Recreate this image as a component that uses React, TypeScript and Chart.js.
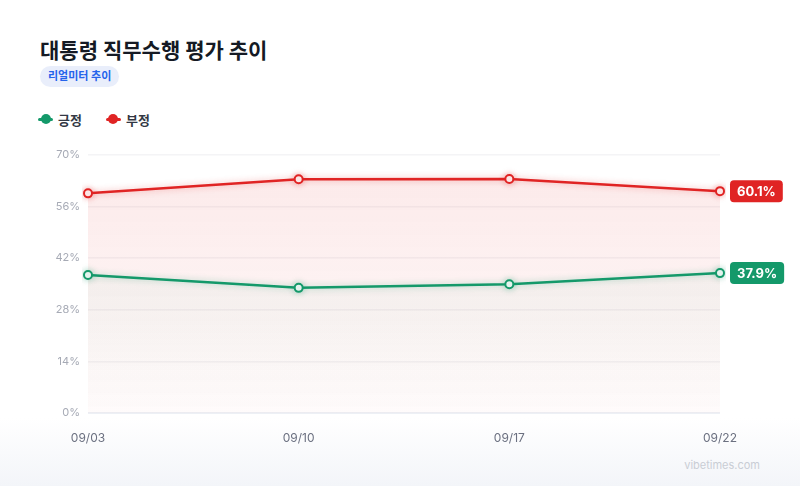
import { useEffect, useRef } from "react";
import Chart from "chart.js/auto";

const dates = ["09/03", "09/10", "09/17", "09/22"];
const positive = [37.4, 33.9, 34.9, 37.9];
const negative = [59.5, 63.3, 63.4, 60.1];
const yTicks = [0, 14, 28, 42, 56, 70];

const GREEN = "#14996a";
const RED = "#e02424";
const FONT = "Inter, 'Noto Sans CJK KR', sans-serif";

// end-of-line value badges, positioned from the scales
const endLabels = {
  id: "endLabels",
  afterDatasetsDraw(chart: any) {
    const { ctx } = chart;
    chart.data.datasets.forEach((ds: any, i: number) => {
      const meta = chart.getDatasetMeta(i);
      const last = meta.data[meta.data.length - 1];
      if (!last) return;
      const text = `${ds.data[ds.data.length - 1].toFixed(1)}%`;
      ctx.save();
      ctx.font = `700 13px ${FONT}`;
      const w = ctx.measureText(text).width + 14;
      const h = 22;
      const x = last.x + 10;
      const y = last.y - h / 2;
      ctx.fillStyle = ds.borderColor;
      ctx.beginPath();
      ctx.roundRect(x, y, w, h, 4);
      ctx.fill();
      ctx.fillStyle = "#fff";
      ctx.textAlign = "center";
      ctx.textBaseline = "middle";
      ctx.fillText(text, x + w / 2, last.y + 1);
      ctx.restore();
    });
  },
};

const lineGlow = {
  id: "lineGlow",
  beforeDatasetDraw(chart: any, args: any) {
    const ctx = chart.ctx;
    ctx.save();
    ctx.shadowColor =
      args.index === 0 ? "rgba(20,153,106,0.35)" : "rgba(224,36,36,0.35)";
    ctx.shadowBlur = 6;
  },
  afterDatasetDraw(chart: any) {
    chart.ctx.restore();
  },
};

function TrendChart() {
  const canvasRef = useRef<HTMLCanvasElement>(null);
  const chartRef = useRef<Chart | null>(null);

  useEffect(() => {
    if (!canvasRef.current) return;
    if (chartRef.current) chartRef.current.destroy();
    const ctx = canvasRef.current.getContext("2d");
    if (!ctx) return;

    const grad = (c: CanvasRenderingContext2D, area: any, rgb: string, a0: number, a1: number) => {
      const g = c.createLinearGradient(0, area.top, 0, area.bottom);
      g.addColorStop(0, `rgba(${rgb},${a0})`);
      g.addColorStop(1, `rgba(${rgb},${a1})`);
      return g;
    };

    chartRef.current = new Chart(ctx, {
      type: "line",
      data: {
        labels: dates,
        datasets: [
          {
            label: "긍정",
            data: positive,
            borderColor: GREEN,
            borderWidth: 2.5,
            pointBackgroundColor: "#fff",
            pointBorderColor: GREEN,
            pointBorderWidth: 2,
            pointRadius: 4,
            tension: 0,
            fill: "origin",
            backgroundColor: (c: any) => {
              const area = c.chart.chartArea;
              if (!area) return "rgba(20,153,106,0.06)";
              return grad(c.chart.ctx, area, "20,153,106", 0.08, 0.0);
            },
          },
          {
            label: "부정",
            data: negative,
            borderColor: RED,
            borderWidth: 2.5,
            pointBackgroundColor: "#fff",
            pointBorderColor: RED,
            pointBorderWidth: 2,
            pointRadius: 4,
            tension: 0,
            fill: "origin",
            backgroundColor: (c: any) => {
              const area = c.chart.chartArea;
              if (!area) return "rgba(224,36,36,0.08)";
              return grad(c.chart.ctx, area, "224,36,36", 0.1, 0.02);
            },
          },
        ],
      },
      options: {
        animation: false,
        responsive: false,
        layout: { padding: { left: 40, right: 80, top: 14, bottom: 0 } },
        plugins: {
          legend: { display: false },
          tooltip: { enabled: false },
        },
        scales: {
          y: {
            min: 0,
            max: 70,
            afterFit: (s: any) => {
              s.width = 48;
            },
            afterBuildTicks: (s: any) => {
              s.ticks = yTicks.map((v) => ({ value: v }));
            },
            border: { display: false },
            grid: {
              color: (c: any) => (c.tick && c.tick.value === 0 ? "#edf0f5" : "#f4f4f6"),
              lineWidth: (c: any) => (c.tick && c.tick.value === 0 ? 2 : 1.5),
              drawTicks: false,
            },
            ticks: {
              padding: 8,
              color: "#a6aab5",
              font: { family: FONT, size: 11 },
              callback: (v: any) => `${v}%`,
            },
          },
          x: {
            afterFit: (s: any) => {
              s.height = 32;
            },
            border: { display: false },
            grid: { display: false },
            ticks: {
              padding: 10,
              color: "#6b7080",
              font: { family: FONT, size: 12 },
              maxRotation: 0,
            },
          },
        },
      },
      plugins: [lineGlow, endLabels],
    });

    return () => {
      if (chartRef.current) {
        chartRef.current.destroy();
        chartRef.current = null;
      }
    };
  }, []);

  return (
    <canvas
      ref={canvasRef}
      width={800}
      height={305}
      style={{ position: "absolute", left: 0, top: 140, width: 800, height: 305 }}
    />
  );
}

function LegendItem({ color, label }: { color: string; label: string }) {
  return (
    <div style={{ display: "flex", alignItems: "center", marginRight: 24 }}>
      <div style={{ position: "relative", width: 15, height: 10, marginRight: 5 }}>
        <div
          style={{
            position: "absolute",
            left: 0,
            top: 4,
            width: 15,
            height: 3,
            background: color,
            borderRadius: 2,
          }}
        />
        <div
          style={{
            position: "absolute",
            left: 2.5,
            top: 0,
            width: 10,
            height: 10,
            borderRadius: 5,
            background: color,
          }}
        />
      </div>
      <span style={{ fontSize: 13, fontWeight: 600, color: "#333844" }}>{label}</span>
    </div>
  );
}

export default function App() {
  useEffect(() => {
    document.body.style.margin = "0";
  }, []);

  return (
    <div
      style={{
        position: "relative",
        width: 800,
        height: 486,
        overflow: "hidden",
        fontFamily: FONT,
        background: "linear-gradient(180deg, #ffffff 0%, #ffffff 86%, #f3f5f9 100%)",
      }}
    >
      <div
        style={{
          position: "absolute",
          left: 40,
          top: 36,
          fontSize: 21,
          fontWeight: 700,
          color: "#151a24",
          lineHeight: "30px",
        }}
      >
        대통령 직무수행 평가 추이
      </div>
      <div
        style={{
          position: "absolute",
          left: 40,
          top: 66,
          height: 21,
          lineHeight: "21px",
          padding: "0 8px",
          borderRadius: 11,
          background: "#e9eefb",
          color: "#2563eb",
          fontSize: 11,
          fontWeight: 700,
        }}
      >
        리얼미터 추이
      </div>
      <div
        style={{
          position: "absolute",
          left: 38,
          top: 110,
          display: "flex",
          alignItems: "center",
          height: 18,
        }}
      >
        <LegendItem color={GREEN} label="긍정" />
        <LegendItem color={RED} label="부정" />
      </div>
      <TrendChart />
      <div
        style={{
          position: "absolute",
          right: 40,
          top: 458,
          fontSize: 11,
          color: "#c9cdd5",
        }}
      >
        vibetimes.com
      </div>
    </div>
  );
}
